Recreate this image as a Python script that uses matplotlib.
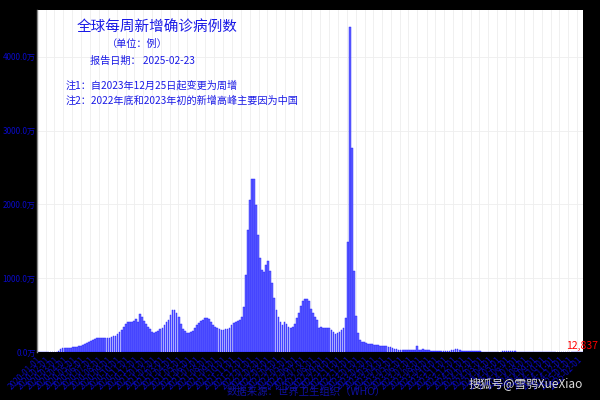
import matplotlib
matplotlib.use('Agg')
import matplotlib.pyplot as plt
import pandas as pd

plt.rcParams['font.family'] = ['Noto Sans CJK SC', 'DejaVu Sans']

# weekly new confirmed cases (unit: 万 = 10,000), weekly from 2020-01-05
week_start = '2020-01-05'
values = [
    0.0, 0.0, 0.1, 0.3, 1.5, 2.2, 1.6, 0.9, 1.5, 5,
    17, 37, 55, 57, 55, 56, 58, 62, 66, 72,
    80, 88, 96, 110, 125, 140, 155, 168, 178, 183,
    185, 188, 190, 186, 185, 195, 205, 210, 215, 245,
    270, 300, 345, 380, 400, 405, 400, 425, 445, 405,
    510, 480, 420, 380, 340, 310, 275, 260, 275, 290,
    305, 330, 360, 400, 440, 500, 570, 565, 530, 470,
    380, 310, 280, 260, 255, 265, 285, 330, 360, 390,
    420, 440, 455, 460, 450, 410, 370, 340, 330, 310,
    300, 300, 305, 315, 330, 370, 395, 410, 420, 440,
    475, 610, 1040, 1650, 2065, 2350, 2340, 1985, 1580, 1275,
    1110, 1085, 1175, 1230, 1095, 930, 730, 570, 475, 405,
    365, 405, 380, 340, 325, 340, 380, 460, 525, 625,
    690, 715, 715, 690, 580, 525, 475, 430, 330, 340,
    320, 320, 320, 320, 300, 270, 245, 255, 275, 300,
    320, 465, 1490, 4405, 2760, 1095, 485, 255, 160, 140,
    135, 120, 110, 110, 105, 95, 95, 90, 85, 80,
    80, 75, 70, 65, 55, 45, 38, 33, 28, 26,
    25, 25, 24, 24, 23, 22, 80, 24, 30, 34,
    33, 30, 22, 20, 20, 19, 19, 18, 18, 18,
    17, 18, 20, 25, 32, 36, 35, 30, 20, 15,
    12, 10, 9, 9, 8, 8, 7, 7, 6, 6,
    6, 5, 5, 5, 5, 5, 6, 6, 7, 7,
    8, 8, 8, 7, 7, 6, 6, 5, 5, 4,
    4, 4, 3.5, 3.5, 3, 3, 3, 3, 2.5, 2.5,
    2.5, 2.5, 2.5, 2, 2, 2, 2, 2, 2, 1.8,
    1.8, 1.8, 1.6, 1.6, 1.5, 1.5, 1.4, 1.2837,
]
last_label = '12,837'
y_ticks = [0, 1000, 2000, 3000, 4000]
y_tick_labels = ['0.0万', '1000.0万', '2000.0万', '3000.0万', '4000.0万']
month_ticks = pd.date_range('2020-01-01', '2025-02-01', freq='MS')
month_labels = [d.strftime('%Y-%m-%d') for d in month_ticks]

title = '全球每周新增确诊病例数'
unit = '（单位：例）'
report = '报告日期： 2025-02-23'
note1 = '注1：自2023年12月25日起变更为周增'
note2 = '注2：2022年底和2023年初的新增高峰主要因为中国'
source = '数据来源：世界卫生组织（WHO）'
watermark = '搜狐号@雪鸮XueXiao'

dates = pd.date_range(week_start, periods=len(values), freq='7D')

W, H = 600, 400
fig = plt.figure(figsize=(6, 4), dpi=100, facecolor='black')
ax = fig.add_axes([37 / W, 48 / H, 546 / W, 342.5 / H])
ax.set_facecolor('white')

ax.bar(dates, values, width=6.0, color='#6060ff', edgecolor='#1a1aff',
       linewidth=0.3, zorder=3)

ax.set_xlim(pd.Timestamp('2020-01-01'), pd.Timestamp('2025-02-20'))
ax.set_ylim(0, 4640)

ax.set_yticks(y_ticks)
ax.set_yticklabels(y_tick_labels)
ax.set_xticks(month_ticks)
ax.set_xticklabels(month_labels)
for lab in ax.get_xticklabels():
    lab.set_rotation(45)
    lab.set_ha('right')
    lab.set_rotation_mode('anchor')

ax.tick_params(axis='x', labelsize=6.0, labelcolor='#0a0ac0', length=0, pad=2)
ax.tick_params(axis='y', labelsize=5.8, labelcolor='#0a0ac8', length=0, pad=1)

ax.grid(True, color='#eeeeee', linewidth=0.6, zorder=0)
ax.set_axisbelow(True)
for s in ['top', 'right', 'bottom']:
    ax.spines[s].set_visible(False)
ax.spines['left'].set_color('#888888')
ax.spines['left'].set_linewidth(1)

# last value label
ax.text(dates[-1], values[-1] + 10, last_label, color='red', fontsize=7.5,
        style='italic', ha='center', va='bottom', zorder=5, clip_on=False)

def fx(px):
    return px / W

def fy(py):
    return 1 - py / H

txt_color = '#1a1ae6'
fig.text(fx(157), fy(27), title, color=txt_color, fontsize=10.5,
         ha='center', va='center', fontweight='medium')
fig.text(fx(137), fy(43.5), unit, color=txt_color, fontsize=7.3,
         ha='center', va='center')
fig.text(fx(90), fy(60.5), report, color=txt_color, fontsize=7.3,
         ha='left', va='center')
fig.text(fx(66), fy(85), note1, color=txt_color, fontsize=7.3,
         ha='left', va='center')
fig.text(fx(66), fy(100.5), note2, color=txt_color, fontsize=7.3,
         ha='left', va='center')

fig.text(fx(306), fy(392), source, color='#1010a0', fontsize=7.5,
         ha='center', va='center')
fig.text(fx(526), fy(384), watermark, color='#dddddd', fontsize=8.5,
         ha='center', va='center')

fig.savefig('out.png', dpi=100, facecolor='black')
